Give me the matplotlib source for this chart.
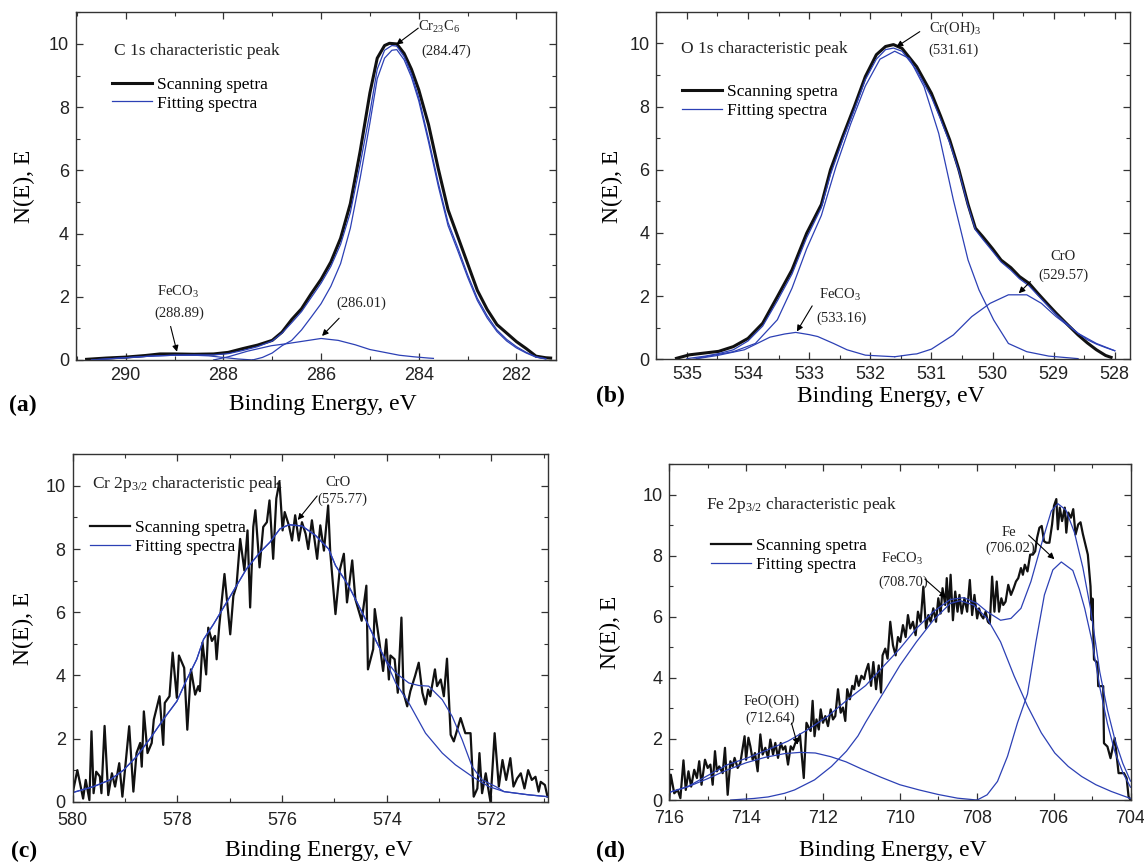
import numpy as np
import matplotlib.pyplot as plt
from matplotlib.ticker import MultipleLocator

# XPS spectra of the passive film: C 1s, O 1s, Cr 2p3/2, Fe 2p3/2
# values (binding energy eV, N(E))

plt.rcParams['font.family'] = 'Liberation Serif'
plt.rcParams['mathtext.fontset'] = 'custom'
plt.rcParams['mathtext.rm'] = 'Liberation Serif'
plt.rcParams['mathtext.it'] = 'Liberation Serif:italic'
plt.rcParams['mathtext.default'] = 'regular'

# ---- (a) C 1s ----
a_scan = np.array([
    [290.80, 0.02], [290.40, 0.06], [290.00, 0.09], [289.60, 0.14], [289.30, 0.19],
    [289.00, 0.19], [288.60, 0.18], [288.20, 0.19], [287.90, 0.24], [287.60, 0.36],
    [287.30, 0.47], [287.00, 0.62], [286.80, 0.88], [286.60, 1.28], [286.40, 1.62],
    [286.20, 2.10], [286.00, 2.55], [285.80, 3.10], [285.60, 3.85], [285.40, 4.95],
    [285.20, 6.60], [285.00, 8.45], [284.85, 9.55], [284.70, 9.95], [284.60, 10.02],
    [284.45, 10.00], [284.30, 9.70], [284.15, 9.20], [284.00, 8.55], [283.80, 7.45],
    [283.60, 6.05], [283.40, 4.75], [283.20, 3.90], [283.00, 3.05], [282.80, 2.20],
    [282.60, 1.60], [282.40, 1.12], [282.20, 0.85], [282.00, 0.58], [281.80, 0.36],
    [281.60, 0.12], [281.40, 0.07], [281.30, 0.06]])
a_env = np.array([
    [290.70, 0.00], [290.30, 0.04], [290.00, 0.07], [289.50, 0.12], [289.00, 0.15],
    [288.50, 0.16], [288.20, 0.16], [287.90, 0.20], [287.60, 0.30], [287.30, 0.42],
    [287.00, 0.60], [286.80, 0.85], [286.60, 1.18], [286.40, 1.53], [286.20, 1.98],
    [286.00, 2.43], [285.80, 2.96], [285.60, 3.66], [285.40, 4.67], [285.20, 6.19],
    [285.00, 7.83], [284.85, 9.20], [284.70, 9.80], [284.55, 9.95], [284.45, 9.93],
    [284.30, 9.60], [284.15, 9.05], [284.00, 8.30], [283.80, 7.00], [283.60, 5.60],
    [283.40, 4.35], [283.20, 3.55], [283.00, 2.70], [282.80, 1.95], [282.60, 1.40],
    [282.40, 0.95], [282.20, 0.65], [282.00, 0.42], [281.80, 0.24], [281.60, 0.10],
    [281.40, 0.04]])
a_cr23c6 = np.array([
    [287.40, 0.00], [287.20, 0.08], [287.00, 0.22], [286.80, 0.45], [286.60, 0.62],
    [286.40, 0.95], [286.20, 1.36], [286.00, 1.78], [285.80, 2.33], [285.60, 3.05],
    [285.40, 4.17], [285.20, 5.75], [285.00, 7.50], [284.85, 8.90], [284.70, 9.55],
    [284.55, 9.80], [284.45, 9.82], [284.30, 9.50], [284.15, 8.95], [284.00, 8.20],
    [283.80, 6.90], [283.60, 5.50], [283.40, 4.25], [283.20, 3.45], [283.00, 2.62],
    [282.80, 1.88], [282.60, 1.33], [282.40, 0.90], [282.20, 0.60], [282.00, 0.38],
    [281.80, 0.22], [281.60, 0.09], [281.40, 0.03]])
a_c286 = np.array([
    [288.20, 0.00], [287.90, 0.10], [287.50, 0.28], [287.02, 0.45], [286.68, 0.52],
    [286.34, 0.60], [286.00, 0.68], [285.65, 0.62], [285.30, 0.48], [285.00, 0.33],
    [284.70, 0.24], [284.40, 0.15], [284.10, 0.10], [283.80, 0.06], [283.70, 0.05]])
a_feco3 = np.array([
    [290.70, 0.00], [290.30, 0.04], [290.00, 0.07], [289.50, 0.12], [289.00, 0.15],
    [288.60, 0.15], [288.30, 0.13], [288.00, 0.08], [287.70, 0.03], [287.40, 0.00]])

# ---- (b) O 1s ----
b_scan = np.array([
    [535.17, 0.03], [534.96, 0.14], [534.70, 0.20], [534.48, 0.25], [534.24, 0.40],
    [534.00, 0.66], [533.76, 1.14], [533.52, 1.98], [533.28, 2.83], [533.04, 3.99],
    [532.80, 4.90], [532.65, 6.00], [532.45, 7.05], [532.26, 8.00], [532.08, 8.95],
    [531.90, 9.64], [531.75, 9.90], [531.62, 9.96], [531.48, 9.84], [531.24, 9.26],
    [531.00, 8.42], [530.85, 7.70], [530.70, 6.94], [530.55, 6.00], [530.40, 4.90],
    [530.28, 4.15], [530.16, 3.88], [530.00, 3.50], [529.86, 3.14], [529.70, 2.90],
    [529.56, 2.62], [529.40, 2.40], [529.26, 2.09], [529.10, 1.75], [528.96, 1.46],
    [528.80, 1.15], [528.60, 0.77], [528.45, 0.52], [528.30, 0.30], [528.15, 0.12],
    [528.06, 0.06]])
b_env = np.array([
    [535.00, 0.02], [534.70, 0.10], [534.48, 0.18], [534.24, 0.30], [534.00, 0.58],
    [533.76, 1.05], [533.52, 1.85], [533.28, 2.70], [533.04, 3.85], [532.80, 4.80],
    [532.65, 5.85], [532.45, 6.95], [532.26, 7.90], [532.08, 8.85], [531.90, 9.50],
    [531.75, 9.80], [531.62, 9.85], [531.48, 9.75], [531.24, 9.15], [531.00, 8.30],
    [530.85, 7.60], [530.70, 6.85], [530.55, 5.95], [530.40, 4.85], [530.28, 4.10],
    [530.16, 3.80], [530.00, 3.42], [529.86, 3.08], [529.70, 2.82], [529.56, 2.55],
    [529.40, 2.32], [529.26, 2.03], [529.10, 1.70], [528.96, 1.42], [528.80, 1.15],
    [528.60, 0.82], [528.45, 0.62], [528.30, 0.48], [528.15, 0.37], [528.00, 0.27]])
b_croh3 = np.array([
    [534.84, 0.03], [534.50, 0.15], [534.24, 0.24], [533.88, 0.50], [533.52, 1.25],
    [533.28, 2.25], [533.04, 3.50], [532.80, 4.55], [532.56, 6.10], [532.32, 7.45],
    [532.08, 8.65], [531.84, 9.50], [531.60, 9.75], [531.36, 9.52], [531.12, 8.63],
    [530.88, 7.15], [530.64, 5.04], [530.40, 3.14], [530.22, 2.19], [529.98, 1.24],
    [529.74, 0.50], [529.44, 0.24], [529.08, 0.10], [528.60, 0.02]])
b_feco3 = np.array([
    [534.90, 0.00], [534.50, 0.12], [534.06, 0.30], [533.64, 0.70], [533.40, 0.80],
    [533.22, 0.85], [533.00, 0.78], [532.86, 0.72], [532.60, 0.50], [532.38, 0.30],
    [532.08, 0.13], [531.80, 0.10], [531.60, 0.08]])
b_cro = np.array([
    [531.60, 0.08], [531.30, 0.16], [531.24, 0.17], [531.00, 0.32], [530.64, 0.77],
    [530.34, 1.35], [530.04, 1.77], [529.74, 2.04], [529.44, 2.04], [529.20, 1.77],
    [528.96, 1.35], [528.60, 0.82], [528.30, 0.50], [528.00, 0.27]])

# ---- (c) Cr 2p3/2 ----
c_scan = np.array([
    [580.00, 0.27], [579.91, 1.00], [579.80, 0.10], [579.75, 0.69], [579.68, 0.05],
    [579.64, 2.23], [579.60, 0.27], [579.55, 0.95], [579.48, 0.80], [579.45, 0.27],
    [579.39, 2.40], [579.32, 0.21], [579.25, 0.90], [579.19, 0.48], [579.11, 1.22],
    [579.05, 0.16], [578.92, 2.39], [578.84, 0.32], [578.78, 1.54], [578.71, 1.86],
    [578.68, 1.11], [578.64, 2.86], [578.57, 1.54], [578.49, 1.86], [578.45, 2.60],
    [578.34, 3.34], [578.27, 1.80], [578.24, 3.13], [578.15, 3.34], [578.09, 4.72],
    [578.01, 3.29], [577.97, 4.63], [577.87, 4.24], [577.81, 2.28], [577.74, 4.19],
    [577.66, 3.39], [577.60, 3.66], [577.57, 3.50], [577.52, 5.04], [577.45, 4.03],
    [577.41, 5.51], [577.34, 5.09], [577.28, 5.25], [577.25, 4.51], [577.20, 5.57],
    [577.10, 7.21], [576.99, 5.30], [576.93, 6.52], [576.87, 6.84], [576.80, 8.32],
    [576.72, 7.32], [576.66, 8.59], [576.61, 6.15], [576.55, 8.70], [576.51, 9.23],
    [576.43, 7.42], [576.36, 8.70], [576.29, 8.85], [576.24, 9.54], [576.17, 7.69],
    [576.11, 9.60], [576.05, 10.13], [575.99, 8.59], [575.95, 9.17], [575.87, 8.75],
    [575.81, 8.27], [575.75, 9.07], [575.68, 8.27], [575.62, 8.85], [575.55, 8.48],
    [575.50, 8.00], [575.43, 8.91], [575.33, 7.69], [575.27, 8.75], [575.20, 7.95],
    [575.12, 9.38], [575.08, 7.90], [574.98, 5.94], [574.90, 7.32], [574.82, 7.85],
    [574.76, 6.31], [574.66, 7.64], [574.60, 6.41], [574.48, 5.73], [574.39, 6.84],
    [574.36, 4.19], [574.26, 4.83], [574.23, 6.10], [574.14, 5.04], [574.07, 4.14],
    [574.01, 5.14], [573.96, 3.87], [573.93, 4.63], [573.85, 4.51], [573.79, 3.45],
    [573.72, 5.83], [573.68, 3.45], [573.61, 3.02], [573.55, 3.50], [573.46, 3.98],
    [573.39, 4.40], [573.32, 3.45], [573.26, 3.08], [573.21, 3.55], [573.17, 3.34],
    [573.08, 4.19], [573.04, 3.66], [572.97, 3.87], [572.91, 3.34], [572.85, 4.53],
    [572.78, 2.12], [572.72, 1.91], [572.59, 2.65], [572.50, 2.17], [572.40, 2.17],
    [572.34, 0.16], [572.27, 0.42], [572.23, 1.54], [572.18, 0.27], [572.11, 0.90],
    [572.02, 0.00], [571.94, 2.17], [571.86, 0.48], [571.79, 1.32], [571.72, 0.69],
    [571.64, 1.38], [571.58, 0.48], [571.51, 0.74], [571.44, 0.90], [571.37, 0.42],
    [571.30, 1.00], [571.23, 0.69], [571.16, 0.79], [571.10, 0.32], [571.06, 0.63],
    [570.98, 0.53], [570.93, 0.16]])
c_env = np.array([
    [580.00, 0.29], [579.60, 0.48], [579.29, 0.69], [579.03, 1.00], [578.78, 1.43],
    [578.52, 2.00], [578.27, 2.60], [578.01, 3.18], [577.82, 3.87], [577.63, 4.51],
    [577.50, 5.14], [577.31, 5.62], [577.06, 6.31], [576.87, 6.84], [576.68, 7.37],
    [576.42, 7.90], [576.23, 8.22], [576.04, 8.64], [575.87, 8.77], [575.62, 8.73],
    [575.36, 8.43], [575.11, 8.00], [574.98, 7.48], [574.73, 6.84], [574.47, 5.99],
    [574.22, 5.14], [574.03, 4.51], [573.83, 4.08], [573.58, 3.76], [573.39, 3.68],
    [573.20, 3.66], [572.94, 3.23], [572.75, 2.70], [572.56, 1.96], [572.37, 1.11],
    [572.18, 0.69], [571.92, 0.48], [571.76, 0.32], [571.30, 0.22], [570.93, 0.16]])
c_cro = np.array([
    [580.00, 0.29], [579.60, 0.48], [579.29, 0.69], [579.03, 1.00], [578.78, 1.43],
    [578.52, 2.00], [578.27, 2.60], [578.01, 3.18], [577.82, 3.87], [577.63, 4.51],
    [577.50, 5.14], [577.31, 5.62], [577.06, 6.31], [576.87, 6.84], [576.68, 7.37],
    [576.42, 7.90], [576.23, 8.22], [576.04, 8.64], [575.87, 8.77], [575.62, 8.73],
    [575.36, 8.43], [575.11, 8.00], [574.98, 7.48], [574.73, 6.84], [574.47, 5.99],
    [574.22, 5.14], [574.03, 4.51], [573.83, 3.76], [573.58, 3.13], [573.26, 2.17],
    [572.94, 1.54], [572.69, 1.17], [572.37, 0.80], [572.05, 0.48], [571.76, 0.32],
    [571.30, 0.22], [570.93, 0.16]])

# ---- (d) Fe 2p3/2 ----
d_scan = np.array([
    [716.00, 0.00], [715.96, 0.83], [715.87, 0.22], [715.78, 0.33], [715.71, 0.06],
    [715.63, 1.30], [715.57, 0.33], [715.50, 0.94], [715.43, 0.44], [715.35, 0.99],
    [715.28, 0.72], [715.22, 1.27], [715.16, 0.50], [715.07, 1.32], [715.00, 1.05],
    [714.93, 1.16], [714.87, 0.50], [714.81, 1.60], [714.76, 0.94], [714.70, 1.10],
    [714.61, 0.88], [714.55, 1.71], [714.48, 0.17], [714.41, 1.27], [714.35, 1.10],
    [714.30, 1.38], [714.22, 1.05], [714.15, 1.21], [714.11, 1.54], [714.04, 2.09],
    [714.00, 1.32], [713.94, 2.04], [713.89, 1.76], [713.83, 1.32], [713.77, 1.54],
    [713.70, 0.94], [713.63, 2.15], [713.57, 1.49], [713.50, 1.71], [713.43, 1.38],
    [713.37, 1.98], [713.30, 1.49], [713.24, 1.87], [713.17, 1.38], [713.10, 1.87],
    [713.04, 1.65], [712.98, 1.76], [712.91, 1.16], [712.84, 1.76], [712.78, 1.65],
    [712.72, 1.87], [712.65, 1.93], [712.60, 2.15], [712.50, 0.72], [712.43, 2.53],
    [712.37, 2.37], [712.32, 2.26], [712.27, 3.25], [712.22, 2.09], [712.17, 2.64],
    [712.11, 2.31], [712.06, 2.97], [712.00, 2.53], [711.94, 2.75], [711.87, 2.42],
    [711.80, 2.97], [711.74, 2.64], [711.68, 2.75], [711.61, 3.63], [711.54, 2.86],
    [711.48, 3.03], [711.42, 2.59], [711.37, 3.63], [711.30, 3.30], [711.24, 3.74],
    [711.19, 3.63], [711.13, 4.07], [711.07, 3.74], [711.00, 4.07], [710.93, 3.96],
    [710.89, 4.19], [710.82, 4.46], [710.75, 3.74], [710.69, 4.52], [710.62, 3.63],
    [710.55, 4.41], [710.49, 3.52], [710.45, 4.74], [710.38, 4.96], [710.32, 4.63],
    [710.25, 5.84], [710.18, 5.07], [710.11, 4.74], [710.05, 5.34], [709.99, 5.18],
    [709.92, 5.73], [709.85, 5.34], [709.79, 6.06], [709.73, 5.62], [709.66, 5.84],
    [709.59, 5.40], [709.53, 6.17], [709.46, 5.84], [709.39, 6.99], [709.32, 5.62],
    [709.26, 6.06], [709.20, 5.84], [709.13, 6.28], [709.06, 5.84], [709.00, 6.61],
    [708.94, 6.11], [708.89, 6.94], [708.82, 6.39], [708.78, 7.27], [708.73, 6.17],
    [708.68, 7.38], [708.62, 5.89], [708.56, 6.83], [708.50, 6.17], [708.45, 6.72],
    [708.39, 6.11], [708.32, 6.61], [708.25, 6.17], [708.18, 7.21], [708.12, 6.06],
    [708.06, 6.72], [707.99, 5.95], [707.94, 6.28], [707.89, 6.06], [707.83, 5.95],
    [707.77, 6.17], [707.71, 5.84], [707.66, 5.78], [707.60, 7.32], [707.54, 6.17],
    [707.48, 7.16], [707.42, 6.17], [707.36, 6.61], [707.31, 6.39], [707.25, 6.50],
    [707.18, 7.05], [707.11, 6.72], [707.04, 6.94], [706.98, 7.16], [706.92, 7.27],
    [706.85, 7.60], [706.80, 7.38], [706.75, 7.71], [706.68, 7.49], [706.61, 8.04],
    [706.54, 8.04], [706.48, 8.15], [706.43, 8.59], [706.37, 8.92], [706.31, 8.98],
    [706.25, 8.48], [706.19, 8.43], [706.11, 8.43], [706.04, 9.03], [705.99, 9.64],
    [705.93, 9.86], [705.89, 8.87], [705.84, 9.58], [705.78, 9.14], [705.71, 9.58],
    [705.67, 8.76], [705.62, 9.42], [705.55, 9.25], [705.49, 9.53], [705.43, 8.70],
    [705.36, 9.03], [705.30, 9.10], [705.24, 8.72], [705.11, 8.04], [705.04, 7.00],
    [705.01, 5.90], [704.99, 6.60], [704.95, 4.60], [704.86, 4.50], [704.84, 3.73],
    [704.71, 3.73], [704.69, 1.86], [704.60, 1.75], [704.52, 1.37], [704.41, 2.03],
    [704.31, 0.88], [704.17, 0.88], [704.10, 0.71], [704.05, 0.11], [704.00, 0.00]])
d_env = np.array([
    [716.00, 0.25], [715.52, 0.44], [715.00, 0.80], [714.48, 1.16], [713.96, 1.38],
    [713.43, 1.65], [712.91, 1.93], [712.39, 2.31], [711.87, 2.75], [711.35, 3.30],
    [710.89, 3.75], [710.45, 4.35], [710.00, 4.96], [709.57, 5.62], [709.13, 6.17],
    [708.69, 6.57], [708.34, 6.63], [707.99, 6.44], [707.73, 6.17], [707.38, 5.89],
    [707.11, 5.95], [706.85, 6.28], [706.59, 7.16], [706.32, 8.37], [706.06, 9.47],
    [705.89, 9.71], [705.68, 9.50], [705.46, 8.77], [705.24, 7.62], [705.04, 6.27],
    [704.93, 5.33], [704.80, 4.20], [704.60, 2.95], [704.40, 1.95], [704.20, 1.20],
    [704.00, 0.62]])
d_feooh = np.array([
    [716.00, 0.25], [715.50, 0.44], [715.00, 0.70], [714.50, 0.98], [714.00, 1.22],
    [713.50, 1.40], [713.00, 1.52], [712.60, 1.56], [712.20, 1.54], [711.80, 1.42],
    [711.40, 1.25], [711.00, 1.02], [710.50, 0.75], [710.00, 0.50], [709.50, 0.33],
    [709.00, 0.18], [708.50, 0.06], [708.00, 0.00]])
d_feco3 = np.array([
    [714.40, 0.00], [713.80, 0.05], [713.43, 0.10], [713.00, 0.22], [712.74, 0.33],
    [712.22, 0.66], [711.78, 1.10], [711.39, 1.60], [711.09, 2.10], [710.89, 2.55],
    [710.45, 3.47], [710.00, 4.41], [709.57, 5.18], [709.13, 5.89], [708.69, 6.44],
    [708.43, 6.53], [708.08, 6.39], [707.73, 5.95], [707.38, 5.18], [707.03, 4.07],
    [706.68, 3.08], [706.32, 2.20], [705.97, 1.54], [705.62, 1.10], [705.27, 0.77],
    [704.90, 0.50], [704.50, 0.28], [704.00, 0.05]])
d_fe = np.array([
    [707.99, 0.00], [707.73, 0.17], [707.46, 0.61], [707.20, 1.43], [706.94, 2.53],
    [706.68, 3.47], [706.46, 5.18], [706.24, 6.72], [706.02, 7.54], [705.80, 7.80],
    [705.50, 7.52], [705.33, 6.90], [705.19, 6.27], [705.08, 5.65], [705.00, 5.20],
    [704.80, 3.70], [704.60, 2.50], [704.40, 1.55], [704.20, 0.90], [704.00, 0.42]])

BLACK = '#111111'
BLUE = '#2c40b5'
AX_COLOR = '#333333'

fig = plt.figure(figsize=(11.44, 8.63), dpi=100)
ax_a = fig.add_axes([0.0663, 0.5829, 0.4193, 0.4028])
ax_b = fig.add_axes([0.5737, 0.5837, 0.4141, 0.4027])
ax_c = fig.add_axes([0.0635, 0.0710, 0.4151, 0.4026])
ax_d = fig.add_axes([0.5850, 0.0730, 0.4032, 0.3890])


def style_axes(ax, xlim, xmajor, xminor, xpad=5):
    ax.set_xlim(*xlim)
    ax.set_ylim(0, 11)
    ax.xaxis.set_major_locator(MultipleLocator(xmajor))
    ax.xaxis.set_minor_locator(MultipleLocator(xminor))
    ax.yaxis.set_major_locator(MultipleLocator(2))
    ax.yaxis.set_minor_locator(MultipleLocator(1))
    ax.tick_params(which='both', direction='in', top=True, right=True,
                   color=AX_COLOR, labelcolor='#222222')
    ax.tick_params(which='major', length=5, width=0.9, labelsize=13, pad=5,
                   labelfontfamily='Liberation Sans')
    ax.tick_params(axis='x', which='major', pad=xpad)
    ax.tick_params(which='minor', length=3, width=0.8)
    for sp in ax.spines.values():
        sp.set_color(AX_COLOR)
        sp.set_linewidth(1.0)


def labels(ax, xl, yl):
    ax.set_xlabel('Binding Energy, eV', fontsize=17)
    ax.set_ylabel('N(E), E', fontsize=17)
    ax.xaxis.label.set_va('center')
    ax.yaxis.label.set_va('center')
    ax.xaxis.set_label_coords(*xl)
    ax.yaxis.set_label_coords(*yl)


def legend(ax, anchor):
    ax.legend(loc='upper left', bbox_to_anchor=anchor, frameon=False,
              fontsize=12.5, handlelength=2.3, handletextpad=0.3,
              labelspacing=0.15, borderpad=0, borderaxespad=0)


def arrow(ax, tail, tip):
    ax.annotate('', xy=tip, xytext=tail,
                arrowprops=dict(arrowstyle='-|>', color='black', lw=0.8,
                                mutation_scale=9, shrinkA=0, shrinkB=0))


def mark(ax, name, value, text_xy, value_xy, tail, tip):
    ax.text(*text_xy, name, ha='center', va='center', fontsize=10.5, color='#222222')
    ax.text(*value_xy, value, ha='center', va='center', fontsize=10.5, color='#222222')
    arrow(ax, tail, tip)


# (a)
ax = ax_a
ax.plot(a_scan[:, 0], a_scan[:, 1], color=BLACK, lw=2.2, label='Scanning spetra')
ax.plot(a_env[:, 0], a_env[:, 1], color=BLUE, lw=0.9, label='Fitting spectra')
for comp in (a_cr23c6, a_c286, a_feco3):
    ax.plot(comp[:, 0], comp[:, 1], color=BLUE, lw=0.9)
style_axes(ax, (291.02, 281.2), 2, 1)
labels(ax, (0.515, -0.129), (-0.108, 0.498))
legend(ax, (0.075, 0.815))
ax.text(0.079, 0.89, 'C 1s characteristic peak', transform=ax.transAxes,
        fontsize=12.5, va='center', color='#222222')
ax.text(284.01, 10.55, 'Cr$_{23}$C$_6$', ha='left', va='center', fontsize=10.5, color='#222222')
ax.text(283.43, 9.77, '(284.47)', ha='center', va='center', fontsize=10.5, color='#222222')
arrow(ax, (284.01, 10.5), (284.46, 9.98))
mark(ax, 'FeCO$_3$', '(288.89)', (288.93, 2.16), (288.9, 1.48),
     (289.08, 1.06), (288.95, 0.26))
ax.text(285.18, 1.8, '(286.01)', ha='center', va='center', fontsize=10.5, color='#222222')
arrow(ax, (285.63, 1.32), (285.98, 0.76))

# (b)
ax = ax_b
ax.plot(b_scan[:, 0], b_scan[:, 1], color=BLACK, lw=2.2, label='Scanning spetra')
ax.plot(b_env[:, 0], b_env[:, 1], color=BLUE, lw=0.9, label='Fitting spectra')
for comp in (b_croh3, b_feco3, b_cro):
    ax.plot(comp[:, 0], comp[:, 1], color=BLUE, lw=0.9)
style_axes(ax, (535.5, 527.75), 1, 0.5)
labels(ax, (0.495, -0.108), (-0.093, 0.498))
legend(ax, (0.054, 0.792))
ax.text(0.053, 0.893, 'O 1s characteristic peak', transform=ax.transAxes,
        fontsize=12.5, va='center', color='#222222')
mark(ax, 'Cr(OH)$_3$', '(531.61)', (530.61, 10.47), (530.64, 9.79),
     (531.19, 10.37), (531.57, 9.89))
mark(ax, 'CrO', '(529.57)', (528.84, 3.25), (528.84, 2.67),
     (529.38, 2.46), (529.57, 2.09))
mark(ax, 'FeCO$_3$', '(533.16)', (532.5, 2.04), (532.47, 1.3),
     (532.95, 1.69), (533.2, 0.88))

# (c)
ax = ax_c
ax.plot(c_scan[:, 0], c_scan[:, 1], color=BLACK, lw=1.6, label='Scanning spetra')
ax.plot(c_env[:, 0], c_env[:, 1], color=BLUE, lw=0.9, label='Fitting spectra')
ax.plot(c_cro[:, 0], c_cro[:, 1], color=BLUE, lw=0.9)
style_axes(ax, (580, 570.93), 2, 1, xpad=7.5)
labels(ax, (0.519, -0.141), (-0.103, 0.498))
legend(ax, (0.036, 0.81))
ax.text(0.040, 0.914, 'Cr 2p$_{3/2}$ characteristic peak', transform=ax.transAxes,
        fontsize=12.5, va='center', color='#222222')
mark(ax, 'CrO', '(575.77)', (574.94, 10.1), (574.84, 9.58),
     (575.33, 9.68), (575.7, 8.92))

# (d)
ax = ax_d
ax.plot(d_scan[:, 0], d_scan[:, 1], color=BLACK, lw=1.6, label='Scanning spetra')
ax.plot(d_env[:, 0], d_env[:, 1], color=BLUE, lw=0.9, label='Fitting spectra')
for comp in (d_feooh, d_feco3, d_fe):
    ax.plot(comp[:, 0], comp[:, 1], color=BLUE, lw=0.9)
style_axes(ax, (716, 704), 2, 1, xpad=7.5)
labels(ax, (0.485, -0.151), (-0.127, 0.498))
legend(ax, (0.09, 0.78))
ax.text(0.079, 0.879, 'Fe 2p$_{3/2}$ characteristic peak', transform=ax.transAxes,
        fontsize=12.5, va='center', color='#222222')
mark(ax, 'Fe', '(706.02)', (707.17, 8.77), (707.13, 8.25),
     (706.65, 8.68), (705.98, 7.89))
mark(ax, 'FeCO$_3$', '(708.70)', (709.94, 7.89), (709.9, 7.15),
     (709.35, 7.24), (708.8, 6.63))
mark(ax, 'FeO(OH)', '(712.64)', (713.33, 3.23), (713.38, 2.69),
     (712.82, 2.52), (712.66, 1.81))

# panel letters
for x, y, s in [(0.008, 0.5307, '(a)'), (0.521, 0.5403, '(b)'),
                (0.0096, 0.0131, '(c)'), (0.521, 0.0131, '(d)')]:
    fig.text(x, y, s, fontsize=17, fontweight='bold', va='center', ha='left')

fig.savefig('out.png', dpi=100)
